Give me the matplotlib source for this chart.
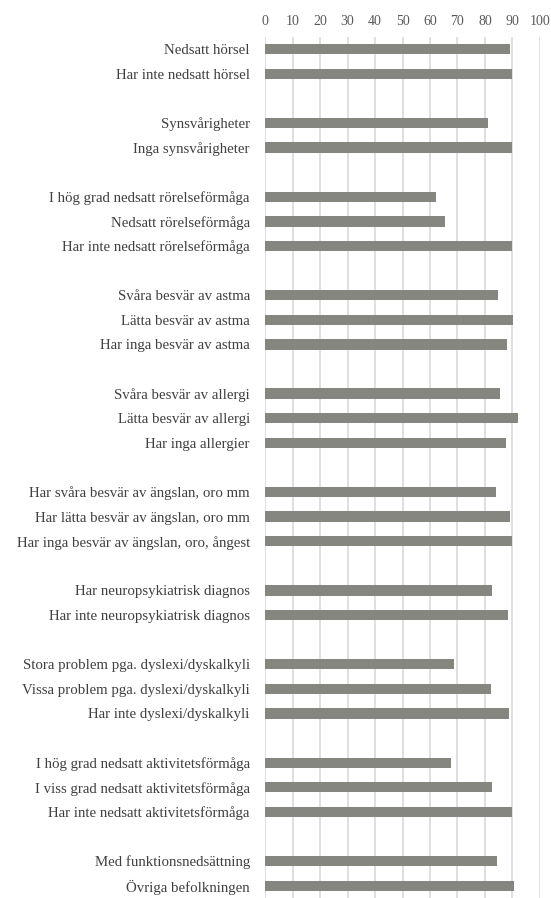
import matplotlib
matplotlib.use("Agg")
import matplotlib.pyplot as plt

# groups of categories, a blank row between each group
group1 = ["Nedsatt hörsel", "Har inte nedsatt hörsel"]
values1 = [89.1, 89.7]
group2 = ["Synsvårigheter", "Inga synsvårigheter"]
values2 = [81.2, 89.9]
group3 = ["I hög grad nedsatt rörelseförmåga", "Nedsatt rörelseförmåga", "Har inte nedsatt rörelseförmåga"]
values3 = [62.2, 65.6, 89.8]
group4 = ["Svåra besvär av astma", "Lätta besvär av astma", "Har inga besvär av astma"]
values4 = [84.7, 90.2, 88.0]
group5 = ["Svåra besvär av allergi", "Lätta besvär av allergi", "Har inga allergier"]
values5 = [85.5, 91.9, 87.5]
group6 = ["Har svåra besvär av ängslan, oro mm", "Har lätta besvär av ängslan, oro mm",
          "Har inga besvär av ängslan, oro, ångest"]
values6 = [84.0, 89.2, 90.0]
group7 = ["Har neuropsykiatrisk diagnos", "Har inte neuropsykiatrisk diagnos"]
values7 = [82.5, 88.5]
group8 = ["Stora problem pga. dyslexi/dyskalkyli", "Vissa problem pga. dyslexi/dyskalkyli",
          "Har inte dyslexi/dyskalkyli"]
values8 = [68.8, 82.3, 88.6]
group9 = ["I hög grad nedsatt aktivitetsförmåga", "I viss grad nedsatt aktivitetsförmåga",
          "Har inte nedsatt aktivitetsförmåga"]
values9 = [67.5, 82.5, 90.0]
group10 = ["Med funktionsnedsättning", "Övriga befolkningen"]
values10 = [84.2, 90.4]

groups = [(group1, values1), (group2, values2), (group3, values3), (group4, values4),
          (group5, values5), (group6, values6), (group7, values7), (group8, values8),
          (group9, values9), (group10, values10)]

labels, vals, pos = [], [], []
row = 0
for names, v in groups:
    for n, x in zip(names, v):
        labels.append(n)
        vals.append(x)
        pos.append(row)
        row += 1
    row += 1  # empty row
nrows = row - 1

fig = plt.figure(figsize=(5.51, 8.98), dpi=100)
ax = fig.add_axes([0.481, 0.0, 0.499, 0.959])

ax.barh(pos, vals, height=0.42, color="#868681", zorder=3)
ax.set_xlim(0, 100)
ax.set_ylim(nrows - 0.5, -0.5)
ax.set_xticks(range(0, 101, 10))
ax.set_yticks(pos)
ax.set_yticklabels(labels, fontsize=10.7, color="#404040", family="Liberation Serif")
ax.xaxis.tick_top()
for t in ax.get_xticklabels():
    t.set_family("Liberation Serif")
    t.set_fontsize(10)
    t.set_color("#595959")
ax.tick_params(axis="both", length=0)
ax.tick_params(axis="y", pad=11)
ax.tick_params(axis="x", pad=6)
ax.grid(axis="x", color="#d9d9d9", linewidth=1.2, zorder=0)
for s in ax.spines.values():
    s.set_visible(False)

fig.savefig("out.png", dpi=100)
